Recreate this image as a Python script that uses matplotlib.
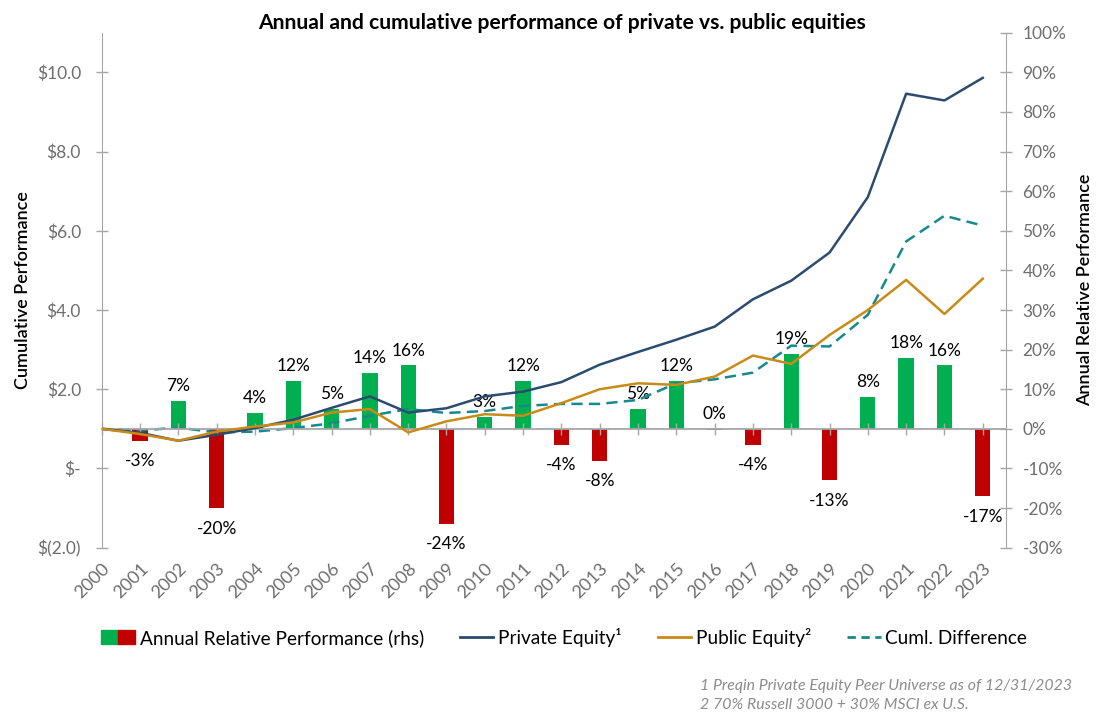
import numpy as np
import matplotlib.pyplot as plt
from matplotlib.patches import Patch
from matplotlib.lines import Line2D
from matplotlib.legend_handler import HandlerTuple

plt.rcParams['font.family'] = ['Lato', 'DejaVu Sans']

# Data
years = np.arange(2000, 2024)
private_equity = [1.0, 0.90, 0.70, 0.85, 1.02, 1.23, 1.53, 1.82, 1.41, 1.52, 1.82, 1.94,
                  2.18, 2.62, 2.94, 3.25, 3.58, 4.27, 4.74, 5.45, 6.85, 9.46, 9.29, 9.86]
public_equity = [1.0, 0.87, 0.70, 0.93, 1.06, 1.16, 1.41, 1.50, 0.91, 1.19, 1.37, 1.33,
                 1.65, 2.00, 2.15, 2.11, 2.32, 2.85, 2.64, 3.37, 4.00, 4.76, 3.90, 4.79]
cuml_diff = [0.0, -0.4, 0.3, -0.9, -0.7, 0.2, 1.4, 3.3, 5.0, 4.0, 4.5, 5.8,
             6.3, 6.3, 7.3, 11.5, 12.5, 14.2, 21.0, 20.8, 28.8, 47.3, 53.8, 51.3]
bar_years = np.arange(2001, 2024)
annual_rel = [-3, 7, -20, 4, 12, 5, 14, 16, -24, 3, 12, -4, -8, 5, 12, -0.3, -4, 19, -13, 8, 18, 16, -17]
annual_labels = ['-3%', '7%', '-20%', '4%', '12%', '5%', '14%', '16%', '-24%', '3%', '12%', '-4%',
                 '-8%', '5%', '12%', '0%', '-4%', '19%', '-13%', '8%', '18%', '16%', '-17%']

green = '#00b050'
red = '#c00000'
pe_color = '#2b4c6e'
pub_color = '#c98b17'
diff_color = '#16898f'
axis_gray = '#a6a6a6'
tick_gray = '#6e6e6e'

fig = plt.figure(figsize=(11, 7.2), dpi=100)
ax = fig.add_axes([0.0925, 0.2393, 0.8218, 0.7153])
ax2 = ax.twinx()

# Bars and cumulative difference on right axis
bar_colors = [green if v >= 0 else red for v in annual_rel]
ax2.bar(bar_years, annual_rel, width=0.4, color=bar_colors, zorder=2)
for x, v, lab in zip(bar_years, annual_rel, annual_labels):
    if v > -0.5:
        ax2.annotate(lab, (x, max(v, 0)), xytext=(0, 5), textcoords='offset points',
                     ha='center', va='bottom', fontsize=12.5, color='black')
    else:
        ax2.annotate(lab, (x, v), xytext=(0, -9), textcoords='offset points',
                     ha='center', va='top', fontsize=12.5, color='black')
ax2.plot(years, cuml_diff, color=diff_color, lw=1.8, linestyle=(0, (4.5, 2.5)), zorder=3)

# Lines on left axis
ax.plot(years, private_equity, color=pe_color, lw=1.8, zorder=4)
ax.plot(years, public_equity, color=pub_color, lw=1.8, zorder=4)
ax.set_zorder(ax2.get_zorder() + 1)
ax.patch.set_visible(False)

# Limits
ax.set_xlim(2000, 2023.6)
ax.set_ylim(-2, 11)
ax2.set_ylim(-30, 100)

# Left axis
ax.set_yticks([-2, 0, 2, 4, 6, 8, 10])
ax.set_yticklabels(['$(2.0)', '$-', '$2.0', '$4.0', '$6.0', '$8.0', '$10.0'])
ax.tick_params(axis='y', direction='inout', length=8, width=1, color=axis_gray,
               labelcolor=tick_gray, labelsize=12.5, pad=11)
ax.set_ylabel('Cumulative Performance', fontsize=13, fontweight='semibold', labelpad=4)
ax.spines['left'].set_color(axis_gray)
ax.spines['top'].set_visible(False)
ax.spines['right'].set_visible(False)

# Zero line with year ticks
ax.spines['bottom'].set_position(('data', 1))
ax.spines['bottom'].set_color(axis_gray)
ax.spines['bottom'].set_linewidth(1.3)
ax.set_xticks(years)
ax.tick_params(axis='x', direction='inout', length=9, width=1, color=axis_gray, labelbottom=False)

# Year labels at the bottom
sec = ax.secondary_xaxis('bottom')
sec.set_xticks(years)
sec.set_xticklabels([str(y) for y in years], rotation=45, ha='right', rotation_mode='anchor')
sec.tick_params(length=0, labelcolor=tick_gray, labelsize=13, pad=9)
sec.spines['bottom'].set_visible(False)

# Right axis
ax2.set_yticks(np.arange(-30, 101, 10))
ax2.set_yticklabels([f'{v}%' for v in range(-30, 101, 10)])
ax2.tick_params(axis='y', direction='inout', length=8, width=1, color=axis_gray,
                labelcolor=tick_gray, labelsize=12.5, pad=8)
ax2.set_ylabel('Annual Relative Performance', fontsize=13, fontweight='semibold', labelpad=8)
for s in ['left', 'top', 'bottom']:
    ax2.spines[s].set_visible(False)
ax2.spines['right'].set_color(axis_gray)

# Title
fig.text(0.511, 0.968, 'Annual and cumulative performance of private vs. public equities',
         ha='center', va='center', fontsize=15.2, fontweight='bold')

# Legend
handles = [(Patch(color=green), Patch(color=red)),
           Line2D([], [], color=pe_color, lw=2),
           Line2D([], [], color=pub_color, lw=2),
           Line2D([], [], color=diff_color, lw=2, linestyle=(0, (3, 2)))]
labels = ['Annual Relative Performance (rhs)', 'Private Equity\u00b9', 'Public Equity\u00b2', 'Cuml. Difference']
fig.legend(handles, labels, loc='center', bbox_to_anchor=(0.513, 0.115), ncol=4, frameon=False,
           fontsize=13.7, handler_map={tuple: HandlerTuple(ndivide=None, pad=0)},
           handlelength=1.75, handleheight=0.8, handletextpad=0.25, columnspacing=1.9)

# Footnotes
fig.text(0.636, 0.047, '1 Preqin Private Equity Peer Universe as of 12/31/2023',
         ha='left', va='center', fontsize=11.4, style='italic', color='#8c8c8c')
fig.text(0.636, 0.021, '2 70% Russell 3000 + 30% MSCI ex U.S.',
         ha='left', va='center', fontsize=11.4, style='italic', color='#8c8c8c')

plt.savefig('out.png')
